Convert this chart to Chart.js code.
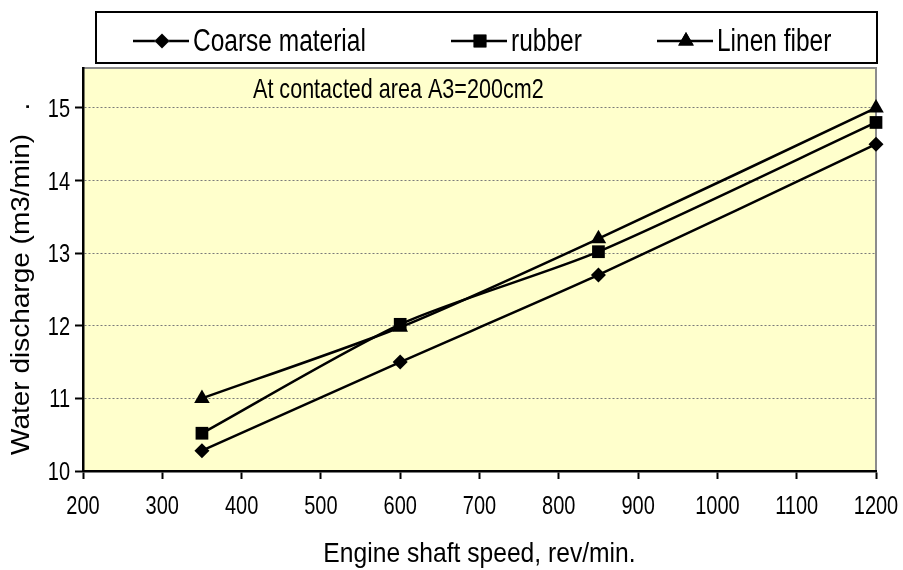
<!DOCTYPE html>
<html>
<head>
<meta charset="utf-8">
<script src="https://cdn.jsdelivr.net/npm/chart.js@4"></script>
<style>
  html, body { margin: 0; padding: 0; background: #fff; }
  #wrap { width: 903px; height: 570px; }
</style>
</head>
<body>
<div id="wrap"><canvas id="rel1" width="903" height="570"></canvas></div>
<script>
// dados
var speeds = [350, 600, 850, 1200];
var coarse = [10.28, 11.5, 12.7, 14.5];
var rubber = [10.52, 12.02, 13.02, 14.8];
var linen = [11.0, 11.98, 13.2, 15.0];
var xTicks = [200, 300, 400, 500, 600, 700, 800, 900, 1000, 1100, 1200];
var yTicks = [10, 11, 12, 13, 14, 15];

var fam = '"Liberation Sans", Arial, sans-serif';

function pts(ys) {
    return speeds.map(function (x, i) { return { x: x, y: ys[i] }; });
}

// texto "estreito": escala horizontal sx
function txt(ctx, s, x, y, size, sx, align) {
    ctx.save();
    ctx.translate(x, y);
    ctx.scale(sx, 1);
    ctx.font = size + 'px ' + fam;
    ctx.fillStyle = '#000';
    ctx.textAlign = align;
    ctx.textBaseline = 'alphabetic';
    ctx.fillText(s, 0, 0);
    ctx.restore();
}

// fundo amarelo + legenda + textos
var extras = {
    id: 'extras',
    beforeDraw: function (chart) {
        var a = chart.chartArea, ctx = chart.ctx;
        ctx.save();
        ctx.fillStyle = '#FFFFCC';
        ctx.fillRect(a.left, a.top, a.right - a.left, a.bottom - a.top);
        ctx.strokeStyle = '#8c8c8c';
        ctx.lineWidth = 2;
        ctx.beginPath();
        ctx.moveTo(a.left, a.top);
        ctx.lineTo(a.right, a.top);
        ctx.lineTo(a.right, a.bottom);
        ctx.stroke();
        ctx.restore();
    },
    afterDraw: function (chart) {
        var ctx = chart.ctx;
        var xs = chart.scales.x, ys = chart.scales.y;
        ctx.save();
        // rotulos dos eixos
        xs.ticks.forEach(function (t) {
            txt(ctx, String(t.value), xs.getPixelForValue(t.value), 514, 25, 0.8, 'center');
        });
        ys.ticks.forEach(function (t) {
            txt(ctx, String(t.value), 70, ys.getPixelForValue(t.value) + 9, 25, 0.8, 'right');
        });
        txt(ctx, 'Engine shaft speed, rev/min.', (chart.chartArea.left + chart.chartArea.right) / 2, 562, 28, 0.88, 'center');
        ctx.save();
        ctx.translate(29, 455);
        ctx.rotate(-Math.PI / 2);
        txt(ctx, 'Water discharge (m3/min)   .', 0, 0, 25, 1.12, 'left');
        ctx.restore();

        // caixa da legenda
        ctx.fillStyle = '#fff';
        ctx.fillRect(96, 12, 781, 51);
        ctx.strokeStyle = '#000';
        ctx.lineWidth = 2;
        ctx.strokeRect(96, 12, 781, 51);
        var starts = [133, 451, 657];
        chart.data.datasets.forEach(function (ds, i) {
            var x0 = starts[i], y = 41;
            ctx.strokeStyle = '#000';
            ctx.lineWidth = 2.5;
            ctx.beginPath();
            ctx.moveTo(x0, y);
            ctx.lineTo(x0 + 56, y);
            ctx.stroke();
            Chart.helpers.drawPoint(ctx, {
                pointStyle: ds.pointStyle,
                radius: ds.pointRadius,
                borderWidth: 0
            }, x0 + 29, y);
            ctx.fillStyle = '#000';
            ctx.fill();
            txt(ctx, ds.label, x0 + 60, 51, 31, 0.79, 'left');
        });
        // anotacao
        txt(ctx, 'At contacted area A3=200cm2', 253, 98, 28, 0.77, 'left');
        ctx.restore();
    }
};

var series = [
    { label: 'Coarse material', data: pts(coarse), pointStyle: 'rectRot', pointRadius: 7.5 },
    { label: 'rubber', data: pts(rubber), pointStyle: 'rect', pointRadius: 9 },
    { label: 'Linen fiber', data: pts(linen), pointStyle: 'triangle', pointRadius: 9 }
];

var rel1 = new Chart(document.getElementById('rel1'), {
    type: 'line',
    data: {
        datasets: series.map(function (s) {
            return {
                label: s.label,
                data: s.data,
                borderColor: '#000',
                backgroundColor: '#000',
                borderWidth: 2.5,
                pointStyle: s.pointStyle,
                pointRadius: s.pointRadius,
                pointHoverRadius: s.pointRadius,
                pointBorderWidth: 0,
                tension: 0.25,
                clip: false,
                fill: false
            };
        })
    },
    options: {
        responsive: false,
        animation: false,
        layout: { padding: { top: 68, right: 27, left: 0, bottom: 0 } },
        plugins: { legend: { display: false }, tooltip: { enabled: false } },
        scales: {
            x: {
                type: 'linear',
                min: 200,
                max: 1200,
                afterBuildTicks: function (s) { s.ticks = xTicks.map(function (v) { return { value: v }; }); },
                afterFit: function (s) { s.height = 99; },
                grid: { drawOnChartArea: false, drawTicks: true, tickLength: 8, tickColor: '#000', tickWidth: 2 },
                border: { color: '#000', width: 2.5 },
                ticks: { color: 'rgba(0,0,0,0)', maxRotation: 0, autoSkip: false }
            },
            y: {
                min: 10,
                max: 15.55,
                afterBuildTicks: function (s) { s.ticks = yTicks.map(function (v) { return { value: v }; }); },
                afterFit: function (s) { s.width = 83; },
                grid: { color: '#7a7a7a', lineWidth: 1, tickLength: 8, tickColor: '#000', tickWidth: 2 },
                border: { color: '#000', width: 2.5, dash: [2, 2] },
                ticks: { color: 'rgba(0,0,0,0)', autoSkip: false }
            }
        }
    },
    plugins: [extras]
});
</script>
</body>
</html>
